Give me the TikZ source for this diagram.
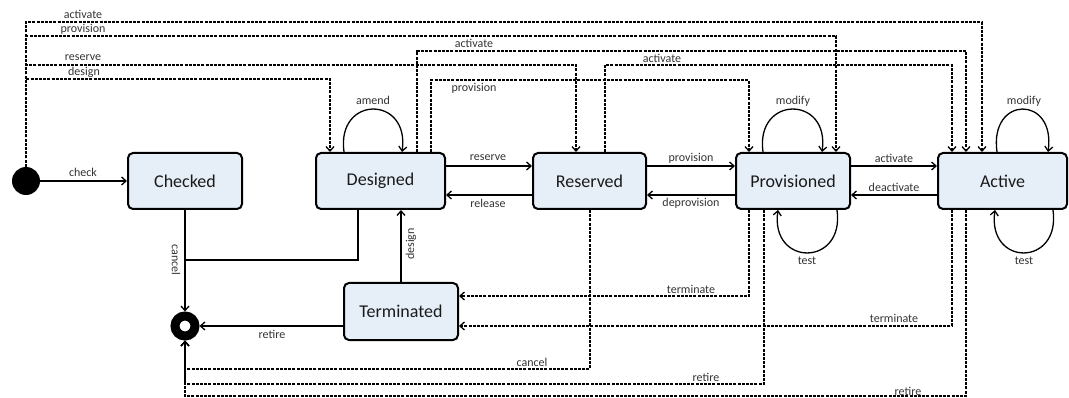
\documentclass[tikz,border=0pt]{standalone}
\usepackage{fontspec}
\setmainfont{Carlito}
\usetikzlibrary{arrows.meta}
\definecolor{boxfill}{HTML}{E6EEF8}
\definecolor{ink}{HTML}{1A1A1A}
\definecolor{lblink}{HTML}{333333}
\tikzset{
  stbox/.style={draw=black, line width=2pt, rounded corners=5pt, fill=boxfill,
    minimum height=56pt, inner sep=0pt, font=\fontsize{18}{20}\selectfont, text=ink},
  tipv/.tip={Straight Barb[length=4.5pt,width=8pt,line width=1.3pt]},
  ln/.style={line width=1.3pt},
  tr/.style={ln, -tipv},
  dln/.style={line width=1.3pt, dash pattern=on 3pt off 1.2pt},
  dtr/.style={dln, -tipv},
  lbl/.style={font=\fontsize{12}{14}\selectfont, text=lblink, inner sep=0pt},
}
\begin{document}
\begin{tikzpicture}[x=1pt,y=-1pt]
\useasboundingbox (0,0) rectangle (1069,398);
% states
\node[circle, fill=black, minimum size=28pt, inner sep=0pt] (init) at (26,181) {};
\node[stbox, minimum width=114pt] (checked) at (185,181) {Checked};
\node[stbox, minimum width=129pt] (designed) at (380.5,181) {Designed};
\node[stbox, minimum width=113pt] (reserved) at (589.5,181) {Reserved};
\node[stbox, minimum width=114pt] (prov) at (793,181) {Provisioned};
\node[stbox, minimum width=129pt] (active) at (1002.5,181) {Active};
\node[stbox, minimum width=114pt, minimum height=57pt] (term) at (401,311.5) {Terminated};
\node[circle, draw=black, line width=9pt, fill=white, minimum size=20pt, inner sep=0pt] (final) at (185,326) {};
% helper coordinates
\coordinate (yU) at (0,166);
\coordinate (yL) at (0,195);
\coordinate (cIA) at (982,22);
\coordinate (cIP) at (836,36);
\coordinate (cIR) at (576,65);
\coordinate (cID) at (330,79);
\coordinate (cDA1) at (417,51);
\coordinate (cDA2) at (966,51);
\coordinate (cDP1) at (431,80);
\coordinate (cDP2) at (749,80);
\coordinate (cRA1) at (605,65);
\coordinate (cRA2) at (952,65);
\coordinate (cRC) at (590,369);
\coordinate (cPT) at (749,296);
\coordinate (cPR) at (764,384);
\coordinate (cAT) at (952,326);
\coordinate (cAR) at (966,396);
\coordinate (cDF) at (358,260);
% solid transitions
\draw[tr] (init.east) -- (checked.west);
\node[lbl] (lcheck) at (83,172) {check};
\draw[tr] (designed.east |- yU) -- (reserved.west |- yU);
\node[lbl] (lres) at (488,158) {reserve};
\draw[tr] (reserved.west |- yL) -- (designed.east |- yL);
\node[lbl] (lrel) at (488,203) {release};
\draw[tr] (reserved.east |- yU) -- (prov.west |- yU);
\node[lbl] (lprov) at (691,158) {provision};
\draw[tr] (prov.west |- yL) -- (reserved.east |- yL);
\node[lbl] (ldeprov) at (691,203) {deprovision};
\draw[tr] (prov.east |- yU) -- (active.west |- yU);
\node[lbl] (lact) at (894,158) {activate};
\draw[tr] (active.west |- yL) -- (prov.east |- yL);
\node[lbl] (ldeact) at (894,187) {deactivate};
\draw[tr] (checked.south) -- (final.north);
\node[lbl, rotate=-90] (lcancel) at (176,260) {cancel};
\draw[ln] (designed.south -| cDF) -- (cDF) -- (checked.south |- cDF);
\draw[tr] (term.north) -- (designed.south -| term.north);
\node[lbl, rotate=90] (ldesign) at (411,244) {design};
\draw[tr] (term.west |- final) -- (final.east);
\node[lbl] (lretire) at (272,334) {retire};
% self loops
\draw[tr] ([xshift=-36.5pt]designed.north) .. controls +(-8,-57) and +(8,-57) .. ([xshift=21.5pt]designed.north);
\node[lbl] (lamend) at (373,100) {amend};
\draw[tr] ([xshift=-30pt]prov.north) .. controls +(-8,-57) and +(8,-57) .. ([xshift=29pt]prov.north);
\node[lbl] (lmodp) at (793,101) {modify};
\draw[tr] ([xshift=44pt]prov.south) .. controls +(8,57) and +(-8,57) .. ([xshift=-15pt]prov.south);
\node[lbl] (ltestp) at (807,261) {test};
\draw[tr] ([xshift=-5.5pt]active.north) .. controls +(-8,-57) and +(8,-57) .. ([xshift=45.5pt]active.north);
\node[lbl] (lmoda) at (1024,101) {modify};
\draw[tr] ([xshift=50.5pt]active.south) .. controls +(8,57) and +(-8,57) .. ([xshift=-7.5pt]active.south);
\node[lbl] (ltesta) at (1024,261) {test};
% dashed transitions from initial state
\draw[dtr] (init.north) |- (cIA) -- (active.north -| cIA);
\node[lbl] (lia) at (83,14) {activate};
\draw[dtr] (init.north) |- (cIP) -- (prov.north -| cIP);
\node[lbl] (lip) at (83,29) {provision};
\draw[dtr] (init.north) |- (cIR) -- (reserved.north -| cIR);
\node[lbl] (lir) at (83,58) {reserve};
\draw[dtr] (init.north) |- (cID) -- (designed.north -| cID);
\node[lbl] (lid) at (84,72) {design};
% dashed transitions on top
\draw[dtr] (designed.north -| cDA1) -- (cDA1) -- (cDA2) -- (active.north -| cDA2);
\node[lbl] (lda) at (474,43) {activate};
\draw[dtr] (designed.north -| cDP1) -- (cDP1) -- (cDP2) -- (prov.north -| cDP2);
\node[lbl] (ldp) at (474,88) {provision};
\draw[dtr] (reserved.north -| cRA1) -- (cRA1) -- (cRA2) -- (active.north -| cRA2);
\node[lbl] (lra) at (662,58) {activate};
% dashed transitions below
\draw[dtr] (reserved.south -| cRC) -- (cRC) -- (final.south |- cRC) -- (final.south);
\node[lbl] (lrc) at (532,362) {cancel};
\draw[dtr] (prov.south -| cPT) -- (cPT) -- (term.east |- cPT);
\node[lbl] (lpt) at (691,289) {terminate};
\draw[dtr] (prov.south -| cPR) -- (cPR) -- (final.south |- cPR) -- (final.south);
\node[lbl] (lpr) at (706,377) {retire};
\draw[dtr] (active.south -| cAT) -- (cAT) -- (term.east |- cAT);
\node[lbl] (lat) at (894,318) {terminate};
\draw[dtr] (active.south -| cAR) -- (cAR) -- (final.south |- cAR) -- (final.south);
\node[lbl] (lar) at (908,391) {retire};
\end{tikzpicture}
\end{document}
